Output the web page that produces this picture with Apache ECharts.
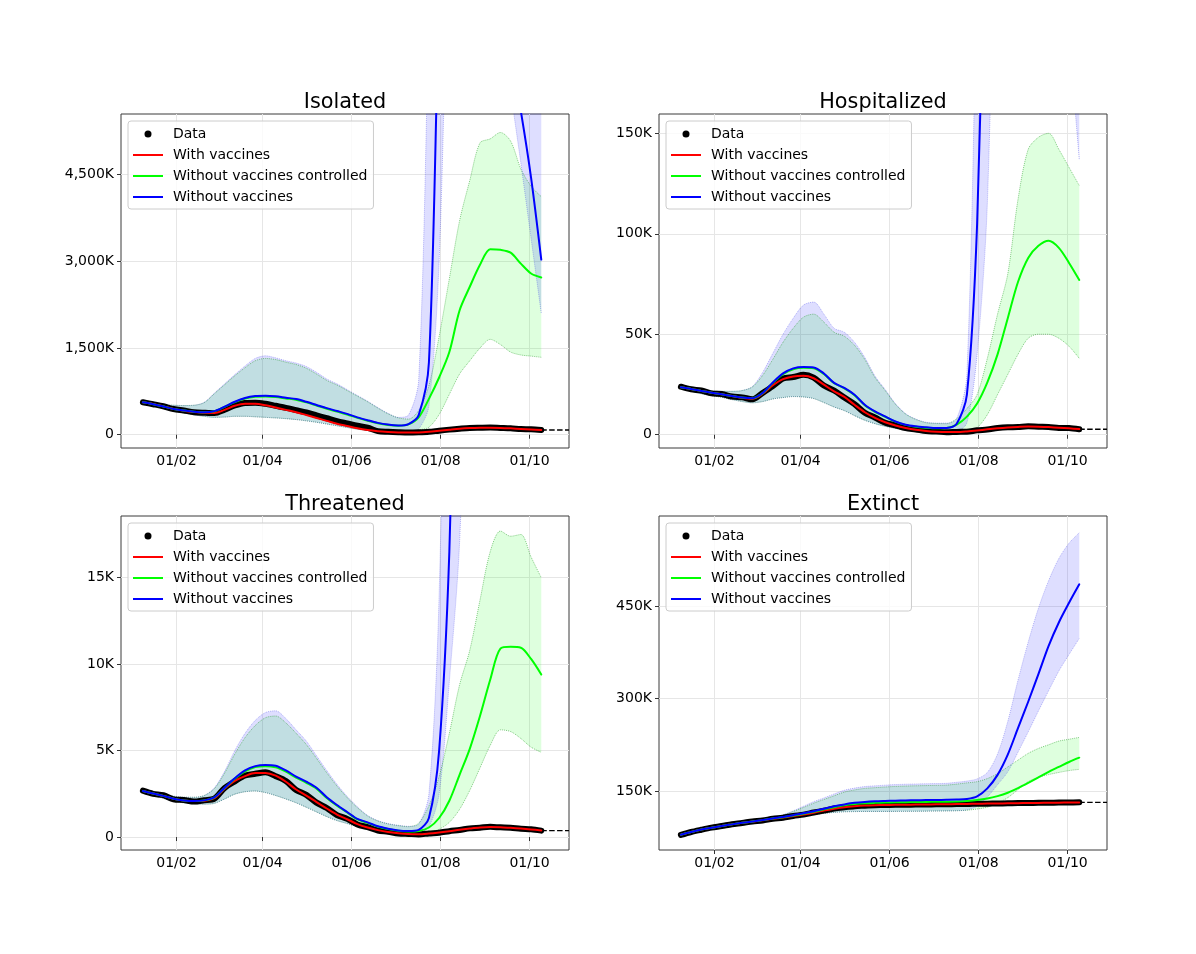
<!DOCTYPE html>
<html>
<head>
<meta charset="utf-8">
<title>Scenarios with and without vaccines</title>
<script src="https://cdn.jsdelivr.net/npm/echarts@6/dist/echarts.min.js"></script>
<style>
html, body { margin: 0; padding: 0; background: #fff; }
#main { width: 1196px; height: 954px; }
</style>
</head>
<body>
<div id="main"></div>
<script>
// weekly samples starting on 9 Jan 2021
var firstDay = '2021-01-09';
var nPoints = 40;
var axisFrom = '2020-12-25';
var axisTo = '2021-10-28';
var tickDays = ['2021-02-01', '2021-04-01', '2021-06-01', '2021-08-01', '2021-10-01'];
var tickLabels = ['01/02', '01/04', '01/06', '01/08', '01/10'];
var names = ['Data', 'With vaccines', 'Without vaccines controlled', 'Without vaccines'];

// all values in thousands
// Isolated
var isoData = [562, 528, 492, 444, 418, 390, 380, 374, 432, 505, 550, 555, 535, 500, 465, 425, 385, 335, 285, 235, 195, 155, 120, 62, 50, 42, 37, 41, 50, 70, 88, 103, 116, 120, 123, 117, 111, 99, 93, 81];
var isoWith = [560, 531, 490, 447, 415, 393, 378, 376, 430, 500, 535, 535, 510, 470, 430, 390, 340, 290, 240, 190, 150, 110, 80, 60, 48, 40, 38, 40, 52, 69, 87, 104, 115, 121, 122, 118, 110, 100, 92, 82];
var isoCtrl = [560, 528, 488, 446, 420, 398, 388, 407, 483, 565, 625, 655, 662, 652, 628, 605, 560, 505, 450, 400, 350, 292, 243, 200, 170, 156, 180, 300, 620, 990, 1430, 2150, 2560, 2940, 3210, 3200, 3150, 2960, 2790, 2720];
var isoCtrlLo = [545, 505, 455, 410, 378, 345, 318, 300, 305, 318, 318, 310, 300, 290, 278, 262, 240, 215, 185, 155, 125, 95, 75, 60, 50, 45, 45, 80, 130, 350, 700, 1050, 1280, 1500, 1650, 1560, 1430, 1380, 1360, 1340];
var isoCtrlHi = [575, 545, 520, 510, 505, 510, 555, 710, 865, 1020, 1160, 1280, 1320, 1300, 1255, 1215, 1150, 1050, 940, 860, 765, 668, 570, 462, 362, 292, 270, 420, 850, 1700, 2700, 3700, 4400, 5050, 5120, 5230, 5080, 4600, 4300, 4120];
var isoNo = [560, 528, 488, 446, 420, 398, 388, 408, 485, 570, 635, 669, 675, 664, 640, 617, 570, 515, 460, 410, 360, 300, 250, 205, 175, 160, 185, 340, 1250, 7500, 12000, 15000, 14000, 11500, 9000, 7500, 6600, 5600, 4450, 3030];
var isoNoLo = [545, 505, 455, 410, 378, 345, 318, 300, 305, 318, 318, 310, 300, 290, 278, 262, 240, 215, 185, 155, 125, 95, 75, 60, 50, 45, 45, 100, 500, 3000, 9000, 12000, 13000, 12000, 10000, 8000, 6000, 4700, 3400, 2100];
var isoNoHi = [575, 545, 520, 510, 505, 510, 560, 720, 880, 1040, 1190, 1320, 1365, 1330, 1280, 1240, 1180, 1080, 965, 880, 780, 680, 580, 470, 370, 300, 340, 950, 7500, 16000, 20000, 22000, 22000, 20000, 18000, 16000, 13000, 10000, 8000, 7000];
var isoTicks = [0, 1500, 3000, 4500];

// Hospitalized
var hospData = [23.9, 22.6, 22.0, 20.6, 20.3, 19.0, 18.6, 17.6, 20.8, 24.2, 28.0, 28.7, 29.8, 28.4, 24.5, 22.0, 18.5, 15.2, 10.9, 8.6, 6.0, 4.7, 3.3, 2.6, 1.8, 1.6, 1.2, 1.4, 1.5, 2.2, 2.6, 3.3, 3.7, 3.8, 4.2, 4.0, 3.9, 3.4, 3.3, 2.7];
var hospWith = [23.6, 22.8, 21.8, 20.9, 20.1, 19.3, 18.4, 17.9, 20.4, 24.6, 27.7, 29.0, 29.3, 28.1, 24.9, 21.6, 18.8, 14.9, 11.2, 8.4, 6.2, 4.6, 3.4, 2.5, 1.9, 1.5, 1.3, 1.3, 1.6, 2.1, 2.7, 3.2, 3.6, 3.9, 4.1, 4.0, 3.8, 3.5, 3.2, 2.8];
var hospCtrl = [23.6, 22.8, 21.8, 20.9, 20.1, 19.3, 18.5, 18.2, 20.7, 25.8, 30.2, 32.6, 33.3, 33.1, 30.2, 25.6, 23.1, 19.7, 14.7, 11.4, 8.9, 6.5, 4.9, 4.0, 3.5, 3.2, 3.3, 5.0, 9.0, 15.5, 26, 40, 58, 76, 88, 94, 96.5, 93, 85.5, 77];
var hospCtrlLo = [22.8, 21.6, 20.4, 19.5, 18.6, 17.5, 16.5, 15.9, 16.5, 17.8, 18.5, 19.0, 18.8, 18.0, 16.0, 13.8, 12.0, 9.5, 7.2, 5.5, 4.2, 3.2, 2.5, 1.9, 1.5, 1.2, 1.1, 1.1, 1.3, 3.5, 10, 20, 30, 40, 48, 50, 50, 48, 44, 38];
var hospCtrlHi = [24.2, 23.5, 22.6, 21.8, 21.6, 21.6, 22.0, 23.8, 29.5, 37.5, 46.0, 53.0, 58.5, 60.0, 56.0, 51.0, 49.0, 44.5, 37.5, 28.5, 22.0, 15.2, 10.3, 7.6, 6.0, 5.6, 5.5, 8, 13, 20, 38, 60, 80, 117, 142, 148, 150, 142, 133, 124];
var hospNo = [23.6, 22.8, 21.8, 20.9, 20.1, 19.3, 18.5, 18.2, 20.8, 26.0, 30.5, 33.0, 33.7, 33.5, 30.5, 25.8, 23.3, 19.9, 14.9, 11.6, 9.1, 6.6, 5.0, 4.2, 3.7, 3.3, 3.4, 5.5, 20, 105, 300, 500, 620, 640, 600, 520, 430, 350, 290, 240];
var hospNoLo = [22.8, 21.6, 20.4, 19.5, 18.6, 17.5, 16.5, 15.9, 16.5, 17.8, 18.5, 19.0, 18.8, 18.0, 16.0, 13.8, 12.0, 9.5, 7.2, 5.5, 4.2, 3.2, 2.5, 1.9, 1.5, 1.2, 1.1, 1.5, 6, 40, 115, 320, 480, 540, 540, 470, 380, 280, 200, 137];
var hospNoHi = [24.2, 23.5, 22.6, 21.8, 21.6, 21.6, 22.0, 24.0, 31.0, 40.5, 50.0, 58.0, 64.5, 66.0, 60.0, 53.0, 51.0, 46.0, 38.5, 29.2, 22.5, 15.5, 10.5, 7.8, 6.2, 5.8, 5.8, 8.0, 30, 250, 600, 900, 1000, 1000, 900, 800, 700, 600, 500, 400];
var hospTicks = [0, 50, 100, 150];

// Threatened
var thrData = [2.68, 2.50, 2.42, 2.18, 2.14, 2.05, 2.13, 2.22, 2.84, 3.22, 3.56, 3.66, 3.75, 3.52, 3.24, 2.72, 2.44, 1.99, 1.68, 1.27, 1.05, 0.73, 0.57, 0.38, 0.31, 0.21, 0.18, 0.15, 0.21, 0.25, 0.34, 0.41, 0.50, 0.54, 0.59, 0.56, 0.54, 0.48, 0.45, 0.37];
var thrWith = [2.66, 2.52, 2.38, 2.22, 2.12, 2.08, 2.10, 2.25, 2.80, 3.25, 3.52, 3.70, 3.70, 3.55, 3.20, 2.75, 2.40, 2.02, 1.65, 1.30, 1.03, 0.75, 0.55, 0.40, 0.29, 0.22, 0.17, 0.16, 0.20, 0.26, 0.33, 0.42, 0.49, 0.55, 0.58, 0.57, 0.53, 0.49, 0.44, 0.38];
var thrCtrl = [2.66, 2.52, 2.38, 2.22, 2.12, 2.08, 2.12, 2.30, 2.84, 3.38, 3.80, 4.05, 4.10, 4.03, 3.78, 3.44, 3.14, 2.80, 2.26, 1.81, 1.42, 1.02, 0.82, 0.60, 0.46, 0.36, 0.32, 0.35, 0.55, 1.1, 2.1, 3.6, 5.1, 7.0, 9.1, 10.9, 11.0, 10.95, 10.3, 9.4];
var thrCtrlLo = [2.57, 2.40, 2.24, 2.08, 1.98, 1.92, 1.90, 1.95, 2.20, 2.48, 2.62, 2.66, 2.57, 2.40, 2.20, 1.98, 1.72, 1.45, 1.18, 0.95, 0.78, 0.60, 0.48, 0.38, 0.30, 0.24, 0.20, 0.18, 0.25, 0.45, 0.85, 1.6, 2.7, 4.0, 5.3, 6.2, 6.1, 5.7, 5.2, 4.9];
var thrCtrlHi = [2.76, 2.62, 2.48, 2.36, 2.30, 2.30, 2.40, 2.80, 3.70, 4.80, 5.75, 6.45, 6.90, 7.00, 6.60, 6.00, 5.35, 4.55, 3.72, 2.95, 2.28, 1.70, 1.22, 0.93, 0.76, 0.66, 0.60, 0.80, 1.8, 3.5, 6.0, 8.8, 10.8, 13.7, 16.5, 17.7, 17.4, 17.5, 16.2, 15.0];
var thrNo = [2.66, 2.52, 2.38, 2.22, 2.12, 2.08, 2.12, 2.30, 2.85, 3.40, 3.85, 4.10, 4.17, 4.12, 3.85, 3.50, 3.20, 2.85, 2.30, 1.85, 1.45, 1.05, 0.85, 0.62, 0.48, 0.38, 0.35, 0.42, 1.1, 5.0, 16.5, 40, 70, 90, 100, 100, 95, 90, 85, 80];
var thrNoLo = [2.57, 2.40, 2.24, 2.08, 1.98, 1.92, 1.90, 1.95, 2.20, 2.48, 2.62, 2.66, 2.57, 2.40, 2.20, 1.98, 1.72, 1.45, 1.18, 0.95, 0.78, 0.60, 0.48, 0.38, 0.30, 0.24, 0.20, 0.25, 0.6, 2.5, 9, 17, 35, 50, 60, 62, 60, 55, 50, 45];
var thrNoHi = [2.76, 2.62, 2.48, 2.36, 2.30, 2.30, 2.40, 2.85, 3.80, 5.00, 6.00, 6.75, 7.20, 7.30, 6.85, 6.20, 5.55, 4.70, 3.85, 3.05, 2.35, 1.75, 1.25, 0.95, 0.78, 0.68, 0.62, 0.75, 2.5, 14, 45, 90, 150, 200, 230, 240, 230, 210, 190, 170];
var thrTicks = [0, 5, 10, 15];

// Extinct
var extData = [78.3, 83.1, 86.8, 90.2, 92.8, 95.7, 97.8, 100.2, 101.8, 104.6, 106.3, 109.2, 111.3, 114.7, 117.8, 121.2, 123.3, 125.1, 125.9, 126.7, 126.9, 127.4, 127.4, 127.8, 127.8, 128.2, 128.2, 128.6, 128.6, 129.1, 129.2, 129.6, 129.7, 130.1, 130.1, 130.5, 130.5, 130.9, 130.9, 131.3];
var extWith = [78.5, 83, 87, 90, 93, 95.5, 98, 100, 102, 104.5, 106.5, 109, 111.5, 114.5, 118, 121, 123.5, 125, 126, 126.6, 127, 127.3, 127.5, 127.7, 127.9, 128.1, 128.3, 128.5, 128.7, 129, 129.3, 129.5, 129.8, 130, 130.2, 130.4, 130.6, 130.8, 131, 131.2];
var extCtrl = [78.5, 83, 87, 90, 93, 95.5, 98, 100.2, 102.4, 105, 107.2, 110, 112.8, 116, 120, 123.5, 126.5, 128.5, 129.8, 130.5, 131, 131.3, 131.6, 131.8, 132.0, 132.2, 132.4, 132.8, 133.6, 135, 137.5, 141.5, 147, 154.5, 163, 172, 181, 189, 197, 204];
var extCtrlLo = [77.8, 82.2, 86.2, 89.2, 92.2, 94.7, 97.2, 99.2, 100.8, 102.5, 104, 106, 109, 111.5, 113.5, 115, 116, 116.3, 116.5, 116.5, 116.5, 116.6, 116.7, 116.8, 117, 117.2, 117.4, 117.7, 118.5, 120.5, 123.5, 130, 139, 152, 165, 172, 176.5, 180, 183, 185];
var extCtrlHi = [79.3, 83.8, 87.8, 90.8, 93.8, 96.3, 98.8, 101, 103.3, 105.7, 110.5, 116.5, 123, 130, 136, 142, 148, 151.5, 154, 155.2, 156.3, 157.2, 157.8, 158.2, 158.6, 158.9, 159.3, 161, 163, 165, 170, 178, 189, 200, 211, 219, 225, 231, 234, 237];
var extNo = [78.5, 83, 87, 90, 93, 95.5, 98, 100.2, 102.5, 105.2, 107.5, 110.5, 113.5, 117, 121, 125, 128, 130.5, 132, 133, 133.6, 134.1, 134.5, 134.8, 135.0, 135.2, 135.4, 135.8, 136.8, 141, 154, 176, 209, 252, 295, 340, 386, 424, 456, 486];
var extNoLo = [77.8, 82.2, 86.2, 89.2, 92.2, 94.7, 97.2, 99.2, 100.8, 102.5, 104, 106, 109, 111.5, 113.5, 115, 116, 116.3, 116.5, 116.5, 116.5, 116.6, 116.7, 116.8, 117, 117.2, 117.4, 117.7, 119, 125, 140, 160, 181, 213, 246, 280, 313, 345, 372, 398];
var extNoHi = [79.3, 83.8, 87.8, 90.8, 93.8, 96.3, 98.8, 101, 103.5, 106, 111, 117.5, 125, 132.5, 138.5, 145, 151, 154.5, 157, 158.2, 159.3, 160.2, 160.8, 161.2, 161.6, 161.9, 162.3, 164, 166, 169.5, 180, 210, 263, 330, 392, 447, 492, 528, 553, 570];
var extTicks = [150, 300, 450];

var font = 'DejaVu Sans';

function dayStr(d) { return d.toISOString().slice(0, 10); }
function dayList(from, count, step) {
    var out = [], d = new Date(from + 'T00:00:00Z');
    for (var i = 0; i < count; i++) {
        out.push(dayStr(d));
        d.setUTCDate(d.getUTCDate() + step);
    }
    return out;
}
var nAxisDays = Math.round((new Date(axisTo) - new Date(axisFrom)) / 86400000) + 1;
var axisDays = dayList(axisFrom, nAxisDays, 1);
var weekDays = dayList(firstDay, nPoints, 7);

function pairs(vals) {
    return vals.map(function (v, i) { return [weekDays[i], v]; });
}
function gaps(hi, lo) {
    return hi.map(function (v, i) { return [weekDays[i], v - lo[i]]; });
}
function isTick(idx, val) { return tickDays.indexOf(val) >= 0; }
function kFormat(v) {
    if (v === 0) return '0';
    return v.toLocaleString('en-US') + 'K';
}

var panels = [
    { title: 'Isolated', left: 121, top: 114, min: -230, max: 5550, ticks: isoTicks,
      data: isoData, withV: isoWith, ctrl: isoCtrl, ctrlLo: isoCtrlLo, ctrlHi: isoCtrlHi, noV: isoNo, noLo: isoNoLo, noHi: isoNoHi },
    { title: 'Hospitalized', left: 659, top: 114, min: -6.6, max: 159.6, ticks: hospTicks,
      data: hospData, withV: hospWith, ctrl: hospCtrl, ctrlLo: hospCtrlLo, ctrlHi: hospCtrlHi, noV: hospNo, noLo: hospNoLo, noHi: hospNoHi },
    { title: 'Threatened', left: 121, top: 516, min: -0.75, max: 18.57, ticks: thrTicks,
      data: thrData, withV: thrWith, ctrl: thrCtrl, ctrlLo: thrCtrlLo, ctrlHi: thrCtrlHi, noV: thrNo, noLo: thrNoLo, noHi: thrNoHi },
    { title: 'Extinct', left: 659, top: 516, min: 53.8, max: 597.2, ticks: extTicks,
      data: extData, withV: extWith, ctrl: extCtrl, ctrlLo: extCtrlLo, ctrlHi: extCtrlHi, noV: extNo, noLo: extNoLo, noHi: extNoHi }
];
var W = 448, H = 334;

var grids = [], xAxes = [], yAxes = [], titles = [], legends = [], series = [];
var lineIcon = 'path://M0,0H30V2H0Z';

panels.forEach(function (p, i) {
    grids.push({ left: p.left, top: p.top, width: W, height: H, show: true,
                 borderColor: '#3a3a3a', borderWidth: 1, backgroundColor: 'transparent' });
    xAxes.push({
        gridIndex: i, type: 'category', data: axisDays, boundaryGap: false,
        axisLine: { show: false },
        axisTick: { show: true, interval: isTick, length: 4, lineStyle: { color: '#333' } },
        axisLabel: { interval: isTick, margin: 6, color: '#000', fontSize: 14, fontFamily: font,
                     formatter: function (v) { var j = tickDays.indexOf(v); return j >= 0 ? tickLabels[j] : ''; } },
        splitLine: { show: true, interval: isTick, lineStyle: { color: '#e6e6e6', width: 1 } }
    });
    yAxes.push({
        gridIndex: i, type: 'value', min: p.min, max: p.max,
        axisLine: { show: false },
        axisTick: { show: true, length: 4, customValues: p.ticks, lineStyle: { color: '#333' } },
        axisLabel: { customValues: p.ticks, margin: 7, color: '#000', fontSize: 14, fontFamily: font, formatter: kFormat },
        splitLine: { show: true, lineStyle: { color: '#e6e6e6', width: 1 } }
    });
    titles.push({
        text: p.title, left: p.left + W / 2, top: p.top - 23, textAlign: 'center', padding: 0,
        textStyle: { fontSize: 20.8, fontWeight: 'normal', color: '#000', fontFamily: font, lineHeight: 24 }
    });
    legends.push({
        orient: 'vertical', left: p.left + 7, top: p.top + 7,
        itemWidth: 30, itemHeight: 7, itemGap: 5, selectedMode: false,
        padding: [5, 6, 4, 5], backgroundColor: 'rgba(255,255,255,0.8)',
        borderColor: '#cccccc', borderWidth: 1, borderRadius: 3,
        textStyle: { fontSize: 14, fontFamily: font, color: '#000', lineHeight: 16, padding: [0, 0, 0, 5] },
        data: [
            { name: names[0], icon: 'circle' },
            { name: names[1], icon: lineIcon },
            { name: names[2], icon: lineIcon },
            { name: names[3], icon: lineIcon }
        ]
    });

    function band(lo, hi, key, stroke, fill) {
        var edge = { color: stroke, width: 1, type: 'dotted' };
        var common = { type: 'line', xAxisIndex: i, yAxisIndex: i, stack: key + i, smooth: 0.3,
                       symbol: 'none', silent: true, z: 1, lineStyle: edge };
        series.push(Object.assign({ data: pairs(lo) }, common));
        series.push(Object.assign({ data: gaps(hi, lo), areaStyle: { color: fill, opacity: 1 } }, common));
    }
    band(p.ctrlLo, p.ctrlHi, 'ctrl', 'rgba(0,140,0,0.45)', 'rgba(0,255,0,0.13)');
    band(p.noLo, p.noHi, 'nov', 'rgba(60,60,230,0.35)', 'rgba(0,0,255,0.13)');

    var last = p.data[p.data.length - 1];
    series.push({ type: 'line', xAxisIndex: i, yAxisIndex: i, symbol: 'none', silent: true, z: 3,
                  data: [[weekDays[nPoints - 1], last], [axisTo, last]],
                  lineStyle: { color: '#000', width: 1.4, type: [5.5, 2.4] } });

    function curve(name, vals, color, width) {
        series.push({ name: name, type: 'line', xAxisIndex: i, yAxisIndex: i, data: pairs(vals),
                      smooth: 0.3, symbol: 'none', color: color, z: 3,
                      lineStyle: { color: color, width: width, cap: 'round', join: 'round' } });
    }
    curve(names[0], p.data, '#000000', 6);
    curve(names[1], p.withV, '#ff0000', 2);
    curve(names[2], p.ctrl, '#00ff00', 2);
    curve(names[3], p.noV, '#0000ff', 2);
});

var chart = echarts.init(document.getElementById('main'));
chart.setOption({
    backgroundColor: '#ffffff',
    animation: false,
    textStyle: { fontFamily: font },
    title: titles,
    legend: legends,
    grid: grids,
    xAxis: xAxes,
    yAxis: yAxes,
    series: series
});
</script>
</body>
</html>
